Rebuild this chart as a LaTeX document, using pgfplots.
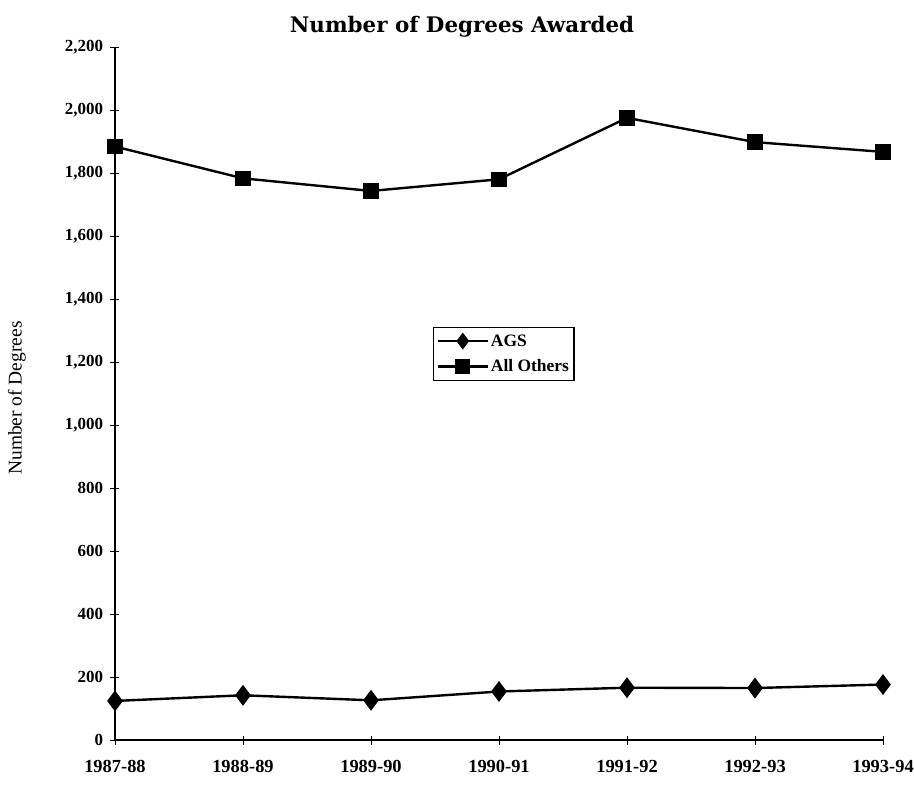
\documentclass[border=0pt]{standalone}
\usepackage{fontspec}
\setmainfont{Liberation Serif}
\newfontfamily\titlefont{DejaVu Serif}
\usepackage{pgfplots}
\pgfplotsset{compat=1.18}
\begin{document}
\begin{tikzpicture}
\begin{axis}[
  at={(0,0)}, anchor=south west,
  scale only axis, width=768bp, height=693bp,
  xmin=0, xmax=6, ymin=0, ymax=2200,
  enlargelimits=false, clip=false,
  axis lines=left, axis line style={line width=1.4bp, -},
  xtick={0,...,6},
  xticklabels={1987-88,1988-89,1989-90,1990-91,1991-92,1992-93,1993-94},
  ytick={0,200,...,2200},
  /pgf/number format/.cd, 1000 sep={,}, assume math mode=true,
  /pgfplots/.cd,
  ticklabel style={font=\fontsize{17}{20}\selectfont\bfseries},
  x tick label style={yshift=-12bp, font=\fontsize{18.5}{21}\selectfont\bfseries},
  y tick label style={xshift=-4bp},
  tick align=center, major tick length=9bp,
  x tick style={line width=0.8bp, black},
  y tick style={line width=0.8bp, black},
  legend cell align=left,
  legend style={at={(0.414,0.596)}, anchor=north west, draw=black, line width=1.2bp,
    font=\fontsize{17.5}{20}\selectfont\bfseries, inner xsep=3bp, inner ysep=5bp,
    row sep=8bp},
  legend image code/.code={\draw[#1, mark size=6.5bp, mark repeat=2, mark phase=2] plot coordinates {(0bp,0bp) (25bp,0bp) (50bp,0bp)};},
]
\addplot[black, line width=2.4bp, mark=diamond*, mark size=8.5bp, mark options={solid}] coordinates {
(0,124) (1,142) (2,126) (3,154) (4,166) (5,165) (6,176)};
\addlegendentry{AGS}
\addplot[black, line width=2.4bp, mark=square*, mark size=6.5bp, mark options={solid}] coordinates {
(0,1884) (1,1783) (2,1743) (3,1780) (4,1975) (5,1898) (6,1867)};
\addlegendentry{All Others}
\end{axis}
\node[font=\titlefont\fontsize{21.5}{25}\selectfont\bfseries] at (347bp,713bp) {Number of Degrees Awarded};
\node[rotate=90, font=\fontsize{19.5}{22}\selectfont] at (-98bp,342bp) {Number of Degrees};
\pgfresetboundingbox
\path (-115bp,-49bp) rectangle (799bp,740bp);
\end{tikzpicture}
\end{document}
